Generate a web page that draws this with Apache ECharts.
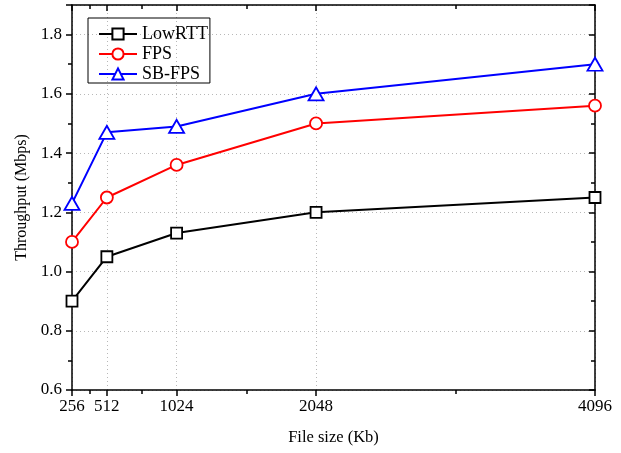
<!DOCTYPE html>
<html>
<head>
<meta charset="utf-8">
<script src="https://cdn.jsdelivr.net/npm/echarts@6/dist/echarts.min.js"></script>
<style>html,body{margin:0;padding:0;background:#fff}#c{width:621px;height:453px}</style>
</head>
<body>
<div id="c"></div>
<script>
const fileSizes = [256, 512, 1024, 2048, 4096];
const xMajorTicks = [256, 512, 1024, 2048, 4096];
const xMinorTicks = [384, 768, 1536, 3072];
const lowRTT = [0.90, 1.05, 1.13, 1.20, 1.25];
const fps = [1.10, 1.25, 1.36, 1.50, 1.56];
const sbFps = [1.23, 1.47, 1.49, 1.60, 1.70];
const seriesNames = ['LowRTT', 'FPS', 'SB-FPS'];

const FONT = '"Liberation Serif", "Times New Roman", serif';
const chart = echarts.init(document.getElementById('c'));
const pair = arr => fileSizes.map((x, i) => [x, arr[i]]);
const axisLine = {show: true, lineStyle: {color: '#000', width: 1.5}};
const baseX = {type: 'value', min: 256, max: 4096, gridIndex: 0};

function mk(name, data, color, symbol, size) {
  return {
    name, type: 'line', data: pair(data), xAxisIndex: 0, yAxisIndex: 0,
    symbol, symbolSize: size, showAllSymbol: true,
    lineStyle: {color, width: 2},
    itemStyle: {color: '#fff', borderColor: color, borderWidth: 1.8},
    emphasis: {disabled: true}, z: 5
  };
}

chart.setOption({
  animation: false,
  backgroundColor: '#fff',
  grid: {left: 72, right: 26, top: 5, bottom: 63, containLabel: false},
  legend: {
    orient: 'vertical', left: 88, top: 18,
    data: seriesNames,
    borderColor: '#000', borderWidth: 1, borderRadius: 0,
    padding: [7, 2, 0, 10], itemGap: 2, itemWidth: 38, itemHeight: 14,
    textStyle: {fontFamily: FONT, fontSize: 18, color: '#000'}
  },
  xAxis: [
    Object.assign({}, baseX, {
      position: 'bottom',
      name: 'File size (Kb)', nameLocation: 'middle', nameGap: 39,
      nameTextStyle: {fontFamily: FONT, fontSize: 16.5, color: '#000'},
      axisLine,
      axisTick: {show: true, customValues: xMajorTicks, length: 6, inside: false, lineStyle: {color: '#000', width: 1.5}},
      axisLabel: {show: true, customValues: xMajorTicks, margin: 8, fontFamily: FONT, fontSize: 17, color: '#000', formatter: v => String(v)},
      splitLine: {show: true, lineStyle: {color: '#b8b8b8', type: [1, 3], width: 1}}
    }),
    Object.assign({}, baseX, {
      position: 'bottom',
      axisLine: {show: false},
      axisTick: {show: true, customValues: xMinorTicks, length: 4, inside: false, lineStyle: {color: '#000', width: 1.5}},
      axisLabel: {show: false},
      splitLine: {show: false}
    }),
    Object.assign({}, baseX, {
      position: 'top',
      axisLine,
      axisTick: {show: true, customValues: xMajorTicks, length: 6, inside: true, lineStyle: {color: '#000', width: 1.5}},
      axisLabel: {show: false},
      splitLine: {show: false}
    }),
    Object.assign({}, baseX, {
      position: 'top',
      axisLine: {show: false},
      axisTick: {show: true, customValues: xMinorTicks, length: 4, inside: true, lineStyle: {color: '#000', width: 1.5}},
      axisLabel: {show: false},
      splitLine: {show: false}
    })
  ],
  yAxis: [
    {
      type: 'value', min: 0.6, max: 1.9, interval: 0.2, position: 'left',
      name: 'Throughput (Mbps)', nameLocation: 'middle', nameGap: 34,
      nameTextStyle: {fontFamily: FONT, fontSize: 16, color: '#000'},
      axisLine,
      axisTick: {show: true, length: 6, inside: false, lineStyle: {color: '#000', width: 1.5}},
      minorTick: {show: true, splitNumber: 2, length: 4, lineStyle: {color: '#000', width: 1.5}},
      axisLabel: {showMaxLabel: false, margin: 10, fontFamily: FONT, fontSize: 17, color: '#000', formatter: v => v.toFixed(1)},
      splitLine: {show: true, lineStyle: {color: '#b8b8b8', type: [1, 3], width: 1}}
    },
    {
      type: 'value', min: 0.6, max: 1.9, interval: 0.2, position: 'right',
      axisLine,
      axisTick: {show: true, length: 6, inside: true, lineStyle: {color: '#000', width: 1.5}},
      minorTick: {show: true, splitNumber: 2, length: 4, lineStyle: {color: '#000', width: 1.5}},
      axisLabel: {show: false},
      splitLine: {show: false}
    }
  ],
  series: [
    mk('LowRTT', lowRTT, '#000000', 'rect', 11),
    mk('FPS', fps, '#ff0000', 'circle', 12),
    mk('SB-FPS', sbFps, '#0000ff', 'triangle', [15, 13])
  ]
});
</script>
</body>
</html>
